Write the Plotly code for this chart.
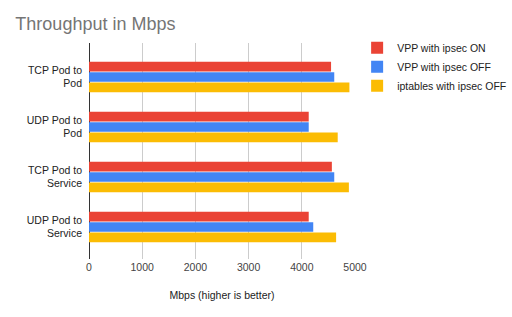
import plotly.graph_objects as go

categories = ["TCP Pod to<br>Pod", "UDP Pod to<br>Pod", "TCP Pod to<br>Service", "UDP Pod to<br>Service"]
series_names = ["VPP with ipsec ON", "VPP with ipsec OFF", "iptables with ipsec OFF"]
vpp_on = [4550, 4130, 4565, 4130]
vpp_off = [4610, 4130, 4610, 4215]
iptables_off = [4895, 4675, 4885, 4645]
colors = ["#EA4335", "#4285F4", "#FBBC04"]
x_ticks = [0, 1000, 2000, 3000, 4000, 5000]

FONT = "Arial, 'Liberation Sans', sans-serif"

fig = go.Figure()
for name, vals, col in zip(series_names, [vpp_on, vpp_off, iptables_off], colors):
    fig.add_trace(go.Bar(
        y=categories, x=vals, name=name, orientation="h",
        marker=dict(color=col, line=dict(width=0)),
    ))

fig.update_layout(
    width=512, height=317,
    margin=dict(l=89, r=157, t=43, b=58, autoexpand=False),
    paper_bgcolor="white", plot_bgcolor="white",
    barmode="group", bargap=0.38, bargroupgap=0.06,
    font=dict(family=FONT, size=10.5, color="#222222"),
    title=dict(text="Throughput in Mbps", x=0.03, xanchor="left", y=0.925, yanchor="middle",
               font=dict(size=18, color="#757575", family=FONT)),
    legend=dict(x=1.008, y=1.045, xanchor="left", yanchor="top", traceorder="normal",
                font=dict(size=10.5, color="#222222"), itemwidth=30, tracegroupgap=0),
    showlegend=True,
)
fig.update_xaxes(range=[0, 5000], tickvals=x_ticks, showgrid=True, gridcolor="#cccccc",
                 zeroline=True, zerolinecolor="#333333", zerolinewidth=1,
                 title=dict(text="Mbps (higher is better)", standoff=20, font=dict(size=10.5)),
                 tickfont=dict(size=10.5, color="#444444"), ticks="", showline=False)
fig.update_yaxes(range=[3.64, -0.68], showgrid=False, ticks="", ticklabelstandoff=6,
                 tickfont=dict(size=10.5, color="#222222"), showline=False)

fig.write_html("out.html")
